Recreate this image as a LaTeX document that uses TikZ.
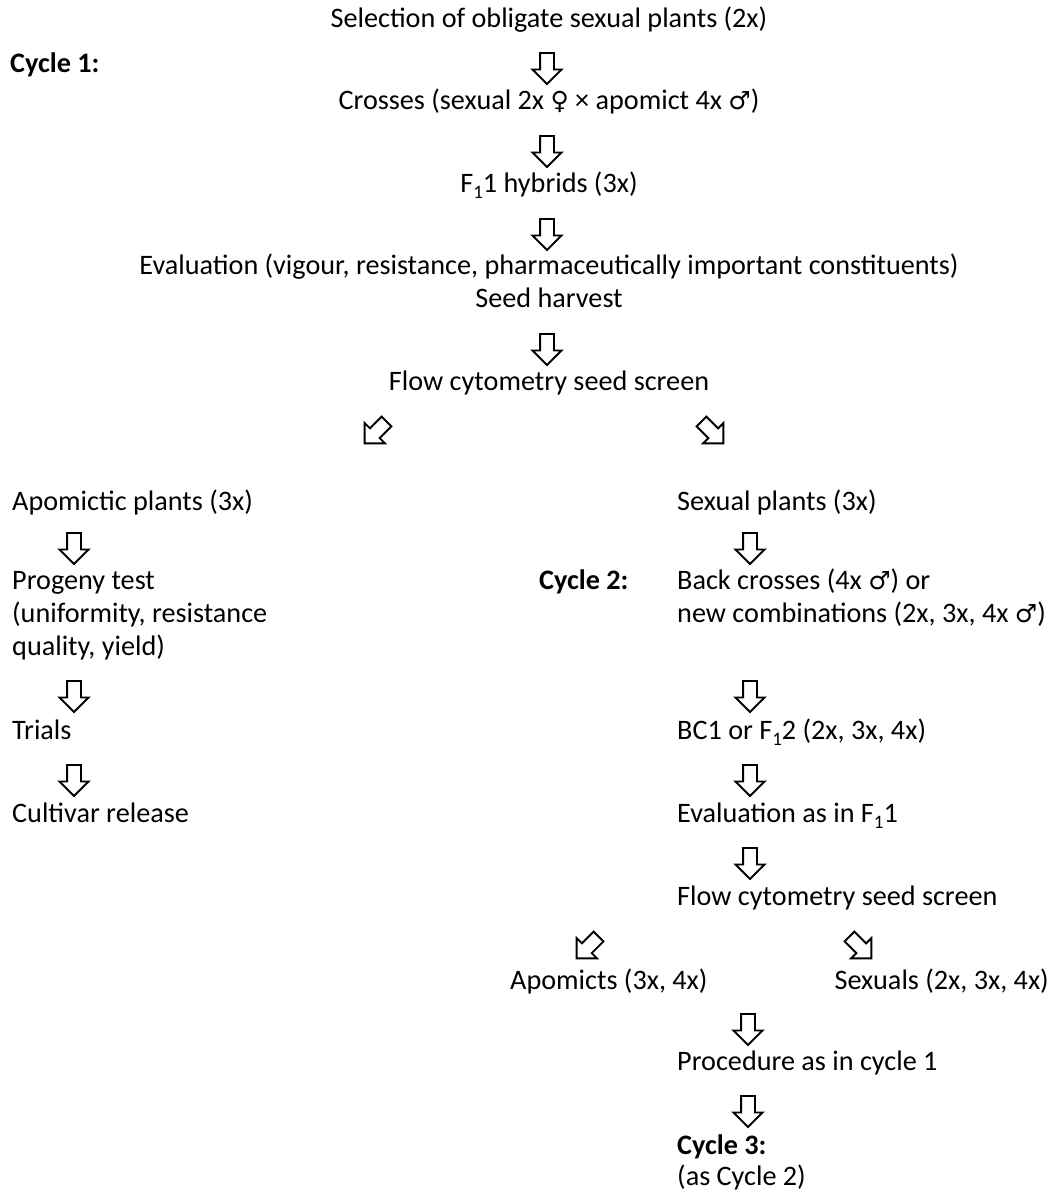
\documentclass[tikz,border=0pt]{standalone}
\usepackage{fontspec}
\setmainfont{Carlito}
\newfontfamily\symfont{DejaVu Sans}
\usetikzlibrary{shapes.arrows}
\newcommand{\fem}{{\symfont\fontsize{25}{30}\selectfont ♀}}
\newcommand{\mal}{{\symfont\fontsize{25}{30}\selectfont ♂}}
\newcommand{\subone}{\raisebox{-6pt}{\fontsize{19}{20}\selectfont 1}}
\begin{document}
\begin{tikzpicture}[x=1pt,y=-1pt,
  txt/.style={inner sep=0pt, anchor=mid, font=\fontsize{28.2}{33}\selectfont},
  ltxt/.style={txt, anchor=mid west},
  btxt/.style={ltxt, font=\fontsize{28.2}{33}\selectfont\bfseries},
  harr/.style={single arrow, draw, line width=1.9pt, inner sep=6pt,
    minimum height=31pt, single arrow head extend=7.5pt},
  dn/.style={harr, rotate=-90},
  dl/.style={harr, rotate=-135},
  dr/.style={harr, rotate=-45}]
\path[use as bounding box, fill=white] (0,0) rectangle (1053,1196);
% top column
\node[txt] (sel) at (549,25) {Selection of obligate sexual plants (2x)};
\node[btxt] (cyc1) at (10,70) {Cycle 1:};
\node[dn] (a1) at (547,65) {};
\node[txt] (cross) at (549,107) {Crosses (sexual 2x \fem{} × apomict 4x \mal)};
\node[dn] (a2) at (547,148) {};
\node[txt] (f1) at (549,190) {F\subone1 hybrids (3x)};
\node[dn] (a3) at (547,231) {};
\node[txt] (eval) at (549,272) {Evaluation (vigour, resistance, pharmaceutically important constituents)};
\node[txt] (seed) at (549,305) {Seed harvest};
\node[dn] (a4) at (547,346) {};
\node[txt] (flow1) at (549,388) {Flow cytometry seed screen};
\node[dl] (d1) at (378,430) {};
\node[dr] (d2) at (710,430) {};
% left column
\node[ltxt] (apo) at (12,508) {Apomictic plants (3x)};
\node[dn] (la1) at (74,545) {};
\node[ltxt] (prog) at (12,587) {Progeny test};
\node[ltxt] (unif) at (12,620) {(uniformity, resistance};
\node[ltxt] (qual) at (12,653) {quality, yield)};
\node[dn] (la2) at (74,693) {};
\node[ltxt] (trials) at (12,737) {Trials};
\node[dn] (la3) at (74,777) {};
\node[ltxt] (cult) at (12,820) {Cultivar release};
% right column
\node[ltxt] (sex) at (677,508) {Sexual plants (3x)};
\node[dn] (ra1) at (750,545) {};
\node[btxt] (cyc2) at (539,587) {Cycle 2:};
\node[ltxt] (back) at (677,587) {Back crosses (4x \mal) or};
\node[ltxt] (newc) at (677,620) {new combinations (2x, 3x, 4x \mal)};
\node[dn] (ra2) at (750,693) {};
\node[ltxt] (bc1) at (677,737) {BC1 or F\subone2 (2x, 3x, 4x)};
\node[dn] (ra3) at (750,777) {};
\node[ltxt] (evf) at (677,820) {Evaluation as in F\subone1};
\node[dn] (ra4) at (750,860) {};
\node[ltxt] (flow2) at (677,903) {Flow cytometry seed screen};
\node[dl] (d3) at (590,945) {};
\node[dr] (d4) at (858,945) {};
\node[ltxt] (apm) at (510,987) {Apomicts (3x, 4x)};
\node[txt, anchor=mid east] (sexs) at (1049,987) {Sexuals (2x, 3x, 4x)};
\node[dn] (ra5) at (748,1026) {};
\node[ltxt] (proc) at (677,1068) {Procedure as in cycle 1};
\node[dn] (ra6) at (748,1108) {};
\node[btxt] (cyc3) at (677,1152) {Cycle 3:};
\node[ltxt] (asc) at (677,1183) {(as Cycle 2)};
\end{tikzpicture}
\end{document}
